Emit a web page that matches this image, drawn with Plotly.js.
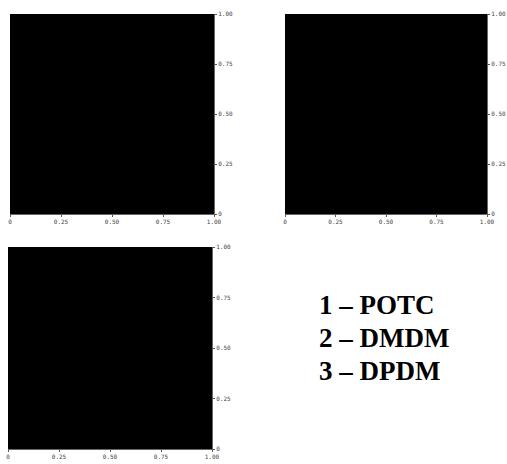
<!DOCTYPE html>
<html><head><meta charset="utf-8">
<script src="https://cdn.plot.ly/plotly-3.0.1.min.js"></script>
<style>html,body{margin:0;padding:0;background:#fff;}#c{width:507px;height:464px;}</style>
</head><body><div id="c"></div>
<script>
// Data
const xEdges = [0, 0.5, 1];
const yEdges = [0, 0.5, 1];
const zPanel1 = [[1, 1], [1, 1]];
const zPanel2 = [[1, 1], [1, 1]];
const zPanel3 = [[1, 1], [1, 1]];
const tickVals = [0, 0.25, 0.5, 0.75, 1];
const tickLabels = ['0', '0.25', '0.50', '0.75', '1.00'];
const legendLines = ['1 – POTC', '2 – DMDM', '3 – DPDM'];

const black = [[0, '#000000'], [1, '#000000']];
function hm(z, xa, ya) {
  return {type: 'heatmap', x: xEdges, y: yEdges, z: z, xaxis: xa, yaxis: ya,
    colorscale: black, showscale: false, hoverinfo: 'skip', zmin: 0, zmax: 1};
}
const data = [hm(zPanel1, 'x', 'y'), hm(zPanel2, 'x2', 'y2'), hm(zPanel3, 'x3', 'y3')];

function xax(dom, anchor) {
  return {domain: dom, anchor: anchor, range: [0, 1], tickvals: tickVals, ticktext: tickLabels,
    ticks: 'outside', ticklen: 2, tickcolor: '#555', showline: true, linecolor: '#666', linewidth: 1,
    showgrid: false, zeroline: false, tickfont: {family: 'DejaVu Sans Mono', size: 6, color: '#444'}};
}
function yax(dom, anchor) {
  return {domain: dom, anchor: anchor, range: [0, 1], side: 'right', tickvals: tickVals, ticktext: tickLabels,
    ticks: 'outside', ticklen: 2, tickcolor: '#555', showline: true, linecolor: '#666', linewidth: 1,
    showgrid: false, zeroline: false, tickfont: {family: 'DejaVu Sans Mono', size: 6, color: '#444'}};
}
const W = 507, H = 464;
const px = (a, b) => [a / W, b / W];
const py = (top, bot) => [1 - bot / H, 1 - top / H];

const layout = {
  width: W, height: H, margin: {l: 0, r: 0, t: 0, b: 0},
  paper_bgcolor: '#fff', plot_bgcolor: '#fff', showlegend: false,
  xaxis: xax(px(10, 214), 'y'), yaxis: yax(py(14, 214), 'x'),
  xaxis2: xax(px(285, 487), 'y2'), yaxis2: yax(py(14, 214), 'x2'),
  xaxis3: xax(px(8, 212), 'y3'), yaxis3: yax(py(247, 449), 'x3'),
  annotations: legendLines.map((t, i) => ({
    text: '<b>' + t + '</b>', xref: 'paper', yref: 'paper', x: 317 / W, y: 1 - (305 + i * 33) / H,
    xanchor: 'left', yanchor: 'middle', showarrow: false,
    font: {family: 'Liberation Serif', size: 27, color: '#000'}
  }))
};
Plotly.newPlot('c', data, layout, {staticPlot: true});
</script></body></html>
